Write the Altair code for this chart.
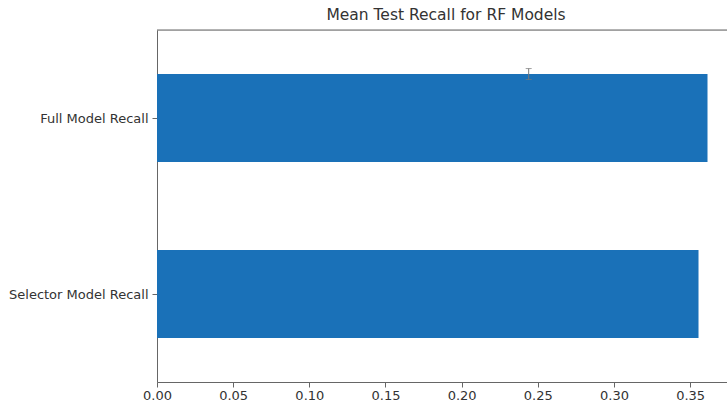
import altair as alt
import pandas as pd

# Mean test recall per model (bar order bottom -> top)
categories = ["Selector Model Recall", "Full Model Recall"]
recall = [0.3555, 0.3614]
positions = [0, 1]

# Error bar drawn at the top edge of the full-model bar
err_x = [0.244]
err_y = [1.25]
err_half = [0.031]

x_ticks = [0.0, 0.05, 0.10, 0.15, 0.20, 0.25, 0.30, 0.35]

BLUE = "#1a71b8"
AXIS = "#666666"
TEXT = "#333333"
FONT = "DejaVu Sans"

bars_df = pd.DataFrame({"model": categories, "recall": recall, "pos": positions})
bars_df["lo"] = bars_df["pos"] - 0.25
bars_df["hi"] = bars_df["pos"] + 0.25

err_df = pd.DataFrame({"x": err_x, "y": err_y, "h": err_half})
err_df["lo"] = err_df["y"] - err_df["h"]
err_df["hi"] = err_df["y"] + err_df["h"]

label_expr = " : ".join(
    f"datum.value == {p} ? '{c}'" for p, c in zip(positions, categories)
) + " : ''"

x_scale = alt.Scale(domain=[0, 0.3742], nice=False, zero=True)
y_scale = alt.Scale(domain=[-0.5, 1.5], nice=False, zero=False)

x_axis = alt.Axis(
    values=x_ticks, format=".2f", title=None, grid=False, labelFlush=False,
    domainColor=AXIS, tickColor=AXIS, tickSize=5, labelPadding=2,
    labelColor=TEXT, labelFontSize=13, labelFont=FONT,
)
y_axis = alt.Axis(
    values=positions, labelExpr=label_expr, title=None, grid=False,
    domainColor=AXIS, tickColor=AXIS, tickSize=5, labelPadding=4,
    labelColor=TEXT, labelFontSize=13, labelFont=FONT,
)

bars = alt.Chart(bars_df).mark_bar(color=BLUE).encode(
    x=alt.X("recall:Q", scale=x_scale, axis=x_axis),
    x2=alt.datum(0),
    y=alt.Y("lo:Q", scale=y_scale, axis=y_axis),
    y2="hi:Q",
)

err_line = alt.Chart(err_df).mark_rule(color="#777777", strokeWidth=1).encode(
    x=alt.X("x:Q", scale=x_scale),
    y=alt.Y("lo:Q", scale=y_scale),
    y2="hi:Q",
)
err_caps_lo = alt.Chart(err_df).mark_tick(
    color="#777777", orient="horizontal", size=6, thickness=1
).encode(x=alt.X("x:Q", scale=x_scale), y=alt.Y("lo:Q", scale=y_scale))
err_caps_hi = alt.Chart(err_df).mark_tick(
    color="#777777", orient="horizontal", size=6, thickness=1
).encode(x=alt.X("x:Q", scale=x_scale), y=alt.Y("hi:Q", scale=y_scale))

top_spine = alt.Chart(pd.DataFrame({"top": [1.5]})).mark_rule(
    color=AXIS, strokeWidth=1
).encode(y=alt.Y("top:Q", scale=y_scale))

chart = (
    alt.layer(bars, err_line, err_caps_lo, err_caps_hi, top_spine)
    .properties(
        width=570,
        height=352,
        title=alt.Title(
            "Mean Test Recall for RF Models",
            font=FONT, fontSize=15.5, fontWeight="normal", color=TEXT,
            anchor="middle", dx=4, offset=6,
        ),
        autosize=alt.AutoSizeParams(type="none"),
        padding={"left": 157, "top": 30, "right": 0, "bottom": 24},
    )
    .configure_view(stroke=None)
    .configure(background="white")
)

chart.save("out.html", embed_options={"renderer": "svg", "actions": False})
